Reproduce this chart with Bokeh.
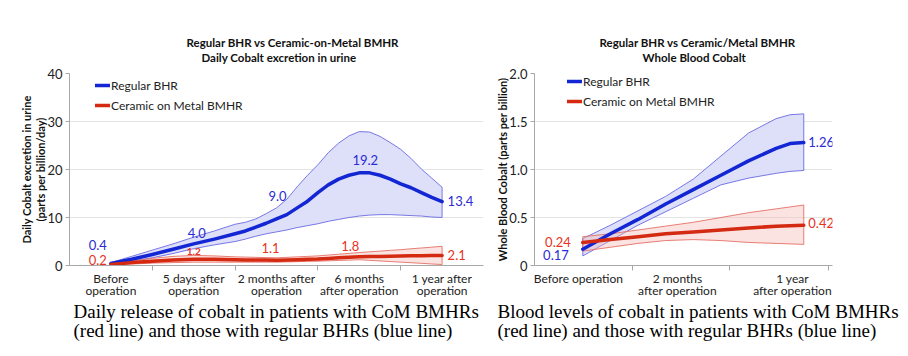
from bokeh.plotting import figure
from bokeh.models import FixedTicker, Label, Legend, LegendItem, Range1d, Title
from bokeh.layouts import row
from bokeh.embed import file_html
from bokeh.resources import INLINE

# ---------------- data: daily cobalt excretion in urine ----------------
urine_categories = ["Before\noperation", "5 days after\noperation", "2 months after\noperation",
                    "6 months\nafter operation", "1 year after\noperation"]
urine_bhr_values = [0.4, 4.0, 9.0, 19.2, 13.4]
urine_bmhr_values = [0.2, 1.2, 1.1, 1.8, 2.1]
urine_yticks = [0, 10, 20, 30, 40]
# curves (x in category steps)
urine_curve_x = [0, 0.25, 0.5, 0.75, 1, 1.25, 1.5, 1.625, 1.75, 1.875, 2, 2.125, 2.25, 2.375, 2.5,
                 2.625, 2.75, 2.875, 3, 3.125, 3.25, 3.375, 3.5, 3.625, 3.75, 3.875, 4]
urine_bhr_mean = [0.4, 1.3, 2.3, 3.4, 4.5, 5.5, 6.6, 7.2, 8.0, 8.8, 9.7, 10.6, 12.0, 13.4, 15.2,
                  16.8, 18.0, 18.8, 19.3, 19.3, 18.8, 18.0, 17.0, 16.2, 15.2, 14.2, 13.3]
urine_bhr_upper = [0.6, 1.9, 3.2, 4.5, 5.9, 7.2, 8.6, 9.0, 9.7, 10.8, 12.0, 13.8, 16.4, 18.8, 21.0,
                   23.5, 25.5, 27.0, 27.9, 27.8, 26.9, 25.6, 24.2, 22.3, 20.1, 18.2, 16.3]
urine_bhr_lower = [0.2, 0.9, 1.6, 2.5, 3.5, 4.3, 5.0, 5.5, 6.1, 6.6, 7.0, 7.4, 7.9, 8.3, 8.7,
                   9.2, 9.6, 10.0, 10.3, 10.5, 10.6, 10.6, 10.5, 10.4, 10.3, 10.1, 10.0]
urine_bmhr_mean = [0.2, 0.6, 0.9, 1.15, 1.3, 1.3, 1.2, 1.17, 1.15, 1.12, 1.1, 1.15, 1.2, 1.28, 1.35,
                   1.47, 1.6, 1.7, 1.8, 1.85, 1.9, 1.95, 2.0, 2.03, 2.05, 2.08, 2.1]
urine_bmhr_upper = [0.3, 0.9, 1.5, 1.9, 2.1, 2.0, 1.8, 1.75, 1.7, 1.65, 1.6, 1.7, 1.8, 1.9, 2.0,
                    2.18, 2.35, 2.52, 2.7, 2.85, 3.0, 3.15, 3.3, 3.48, 3.65, 3.82, 4.0]
urine_bmhr_lower = [0.1, 0.3, 0.5, 0.6, 0.7, 0.7, 0.7, 0.7, 0.7, 0.7, 0.7, 0.75, 0.8, 0.85, 0.9,
                    0.98, 1.05, 1.12, 1.2, 1.08, 0.95, 0.82, 0.7, 0.58, 0.45, 0.32, 0.2]

# ---------------- data: whole blood cobalt ----------------
blood_categories = ["Before operation", "2 months\nafter operation", "1 year\nafter operation"]
blood_bhr_values = [0.17, 1.26]
blood_bmhr_values = [0.24, 0.42]
blood_yticks = [0, 0.5, 1.0, 1.5, 2.0]
blood_curve_x = [0, 0.25, 0.5, 0.75, 1, 1.25, 1.5, 1.75, 1.875, 2]
blood_bhr_mean = [0.17, 0.33, 0.48, 0.64, 0.79, 0.94, 1.09, 1.22, 1.27, 1.28]
blood_bhr_upper = [0.28, 0.42, 0.57, 0.72, 0.90, 1.14, 1.38, 1.53, 1.57, 1.58]
blood_bhr_lower = [0.10, 0.26, 0.42, 0.56, 0.70, 0.84, 0.91, 0.96, 0.98, 0.99]
blood_bmhr_mean = [0.24, 0.27, 0.30, 0.33, 0.35, 0.37, 0.39, 0.41, 0.415, 0.42]
blood_bmhr_upper = [0.30, 0.33, 0.37, 0.41, 0.45, 0.50, 0.55, 0.59, 0.61, 0.63]
blood_bmhr_lower = [0.15, 0.19, 0.23, 0.26, 0.27, 0.26, 0.24, 0.23, 0.225, 0.22]

series_names = ["Regular BHR", "Ceramic on Metal BMHR"]
titles_urine = ["Regular BHR vs Ceramic-on-Metal BMHR", "Daily Cobalt excretion in urine"]
titles_blood = ["Regular BHR vs Ceramic/Metal BMHR", "Whole Blood Cobalt"]
caption_urine = ["Daily release of cobalt in patients with CoM BMHRs",
                 "(red line) and those with regular BHRs (blue line)"]
caption_blood = ["Blood levels of cobalt in patients with CoM BMHRs",
                 "(red line) and those with regular BHRs (blue line)"]

# ---------------- styles ----------------
FONT = "Lato"
BLUE = "#1326d4"
BLUE_TXT = "#2b2bd6"
RED = "#d42a12"
RED_TXT = "#e8321e"
BAND_BLUE_FILL = "#dedff9"
BAND_BLUE_LINE = "#6a6ae2"
BAND_RED_FILL = "#f3b9b1"
BAND_RED_LINE = "#e57067"
AXIS = "#a8a8a8"
GRID = "#e4e4e4"


def band(xs, upper, lower):
    return list(xs) + list(xs)[::-1], list(upper) + list(lower)[::-1]


def style(p, yticks, ylabel, xticks, xlabels, minor):
    p.outline_line_color = None
    p.xgrid.grid_line_color = None
    p.ygrid.ticker = FixedTicker(ticks=yticks)
    p.ygrid.grid_line_color = GRID
    p.yaxis.ticker = FixedTicker(ticks=yticks)
    p.xaxis.ticker = FixedTicker(ticks=xticks, minor_ticks=minor)
    p.xaxis.major_label_overrides = {t: l for t, l in zip(xticks, xlabels)}
    for ax in (p.xaxis[0], p.yaxis[0]):
        ax.axis_line_color = AXIS
        ax.major_label_text_font = FONT
        ax.major_label_text_color = "#222222"
    p.xaxis.major_tick_line_color = None
    p.xaxis.major_tick_out = 0
    p.xaxis.major_tick_in = 0
    p.xaxis.minor_tick_line_color = AXIS
    p.xaxis.minor_tick_out = 5
    p.xaxis.minor_tick_in = 0
    p.xaxis.major_label_text_font_size = "12px"
    p.xaxis.major_label_text_line_height = 0.8
    p.xaxis.major_label_standoff = 0
    p.yaxis.major_tick_line_color = AXIS
    p.yaxis.major_tick_out = 4
    p.yaxis.major_tick_in = 0
    p.yaxis.minor_tick_line_color = None
    p.yaxis.major_label_text_font_size = "13px"
    p.yaxis.major_label_standoff = 3
    p.yaxis.axis_label = ylabel
    p.yaxis.axis_label_standoff = -3
    p.yaxis.axis_label_text_font = FONT
    p.yaxis.axis_label_text_font_style = "bold"
    p.yaxis.axis_label_text_font_size = "11px"
    p.yaxis.axis_label_text_color = "#111111"
    p.yaxis.axis_label_text_line_height = 1.1


def add_text(p, text, x, y, size="13px", color="#000000", align="center", dx=0, dy=0, bold=False):
    p.add_layout(Label(x=x, y=y, text=text, x_offset=dx, y_offset=dy,
                       text_font=FONT, text_font_size=size, text_color=color, text_align=align,
                       text_baseline="middle", text_font_style="bold" if bold else "normal"))


def add_headings(p, lines, offsets):
    # nearest line first (stacked outward)
    p.add_layout(Title(text=lines[1], align="left", offset=offsets[1], standoff=19,
                       text_font=FONT, text_font_size="11.5px", text_font_style="bold",
                       text_color="#111111"), "above")
    p.add_layout(Title(text=lines[0], align="left", offset=offsets[0], standoff=-19,
                       text_font=FONT, text_font_size="11.5px", text_font_style="bold",
                       text_color="#111111"), "above")


def add_caption(p, lines, offset):
    p.add_layout(Title(text="\n".join(lines), align="left", offset=offset, standoff=0,
                       vertical_align="top", text_font="Liberation Serif", text_font_size="19px",
                       text_font_style="normal", text_color="#000000", text_line_height=0.95), "below")


def add_band(p, xs, upper, lower, fill, edge, alpha):
    bx, by = band(xs, upper, lower)
    p.patch(bx, by, fill_color=fill, fill_alpha=alpha, line_color=edge, line_width=1, line_alpha=0.9)


def add_legend(p, renderers, loc):
    p.add_layout(Legend(items=[LegendItem(label=n, renderers=[r]) for n, r in zip(series_names, renderers)],
                        location=loc, glyph_width=15, glyph_height=20, label_height=20, label_standoff=1,
                        spacing=0, padding=0, margin=0, border_line_color=None, background_fill_alpha=0,
                        label_text_font=FONT, label_text_font_size="12px", label_text_color="#222222"))


# ================= left chart =================
p1 = figure(width=484, height=356, x_range=Range1d(-0.5, 4.5), y_range=Range1d(0, 40),
            output_backend="svg", toolbar_location=None,
            min_border_left=69, min_border_right=1, min_border_top=73, min_border_bottom=91)
style(p1, urine_yticks, "Daily Cobalt excretion in urine\n(parts per billion/day)",
      list(range(len(urine_categories))), urine_categories, [0.5, 1.5, 2.5, 3.5])

add_band(p1, urine_curve_x, urine_bhr_upper, urine_bhr_lower, BAND_BLUE_FILL, BAND_BLUE_LINE, 1.0)
add_band(p1, urine_curve_x, urine_bmhr_upper, urine_bmhr_lower, BAND_RED_FILL, BAND_RED_LINE, 0.4)
l1b = p1.line(urine_curve_x, urine_bhr_mean, line_color=BLUE, line_width=3.5, line_join="round", line_cap="round")
l1r = p1.line(urine_curve_x, urine_bmhr_mean, line_color=RED, line_width=3.5, line_join="round", line_cap="round")
add_legend(p1, [l1b, l1r], (26, 150))

urine_blue_pos = [("right", -4, 19), ("center", 3, 13), ("center", 1, 26), ("center", 6, 13), ("left", 5.5, 0)]
urine_red_pos = [("right", -4, 5), ("center", 0, 8), ("center", -6, 12), ("center", -9, 11), ("left", 5.5, 0)]
for i, (v, (al, dx, dy)) in enumerate(zip(urine_bhr_values, urine_blue_pos)):
    add_text(p1, f"{v:.1f}", i, v, color=BLUE_TXT, align=al, dx=dx, dy=dy)
for i, (v, (al, dx, dy)) in enumerate(zip(urine_bmhr_values, urine_red_pos)):
    small = i == 1
    add_text(p1, f"{v:.1f}", i, v, color=RED_TXT, align=al, dx=dx, dy=dy,
             size="10px" if small else "13px", bold=small)

add_headings(p1, titles_urine, [117, 132])
add_caption(p1, caption_urine, 4)

# ================= right chart =================
p2 = figure(width=424, height=356, x_range=Range1d(-0.437, 2.26), y_range=Range1d(0, 2.0),
            output_backend="svg", toolbar_location=None,
            min_border_left=50, min_border_right=76, min_border_top=71, min_border_bottom=87)
style(p2, blood_yticks, "Whole Blood Cobalt (parts per billion)",
      [-0.04, 0.857, 1.898], blood_categories, [0.45, 1.327, 2.226])
p2.yaxis.major_label_overrides = {0: "0", 0.5: "0.5", 1: "1.0", 1.5: "1.5", 2: "2.0"}

add_band(p2, blood_curve_x, blood_bhr_upper, blood_bhr_lower, BAND_BLUE_FILL, BAND_BLUE_LINE, 1.0)
add_band(p2, blood_curve_x, blood_bmhr_upper, blood_bmhr_lower, BAND_RED_FILL, BAND_RED_LINE, 0.4)
l2b = p2.line(blood_curve_x, blood_bhr_mean, line_color=BLUE, line_width=3.5, line_join="round", line_cap="round")
l2r = p2.line(blood_curve_x, blood_bmhr_mean, line_color=RED, line_width=3.5, line_join="round", line_cap="round")
add_legend(p2, [l2b, l2r], (33, 154))

blood_end = blood_curve_x[-1]
add_text(p2, f"{blood_bhr_values[0]:.2f}", 0, blood_bhr_values[0], color=BLUE_TXT, align="right", dx=-14, dy=-5.5)
add_text(p2, f"{blood_bmhr_values[0]:.2f}", 0, blood_bmhr_values[0], color=RED_TXT, align="right", dx=-12, dy=0)
add_text(p2, f"{blood_bhr_values[1]:.2f}", blood_end, blood_bhr_values[1], color=BLUE_TXT, align="left", dx=4.5, dy=2.5)
add_text(p2, f"{blood_bmhr_values[1]:.2f}", blood_end, blood_bmhr_values[1], color=RED_TXT, align="left", dx=4.5, dy=2.5)

add_headings(p2, titles_blood, [65, 108])
add_caption(p2, caption_blood, -37)

layout = row(p1, p2)
open("out.html", "w").write(file_html(layout, INLINE))
